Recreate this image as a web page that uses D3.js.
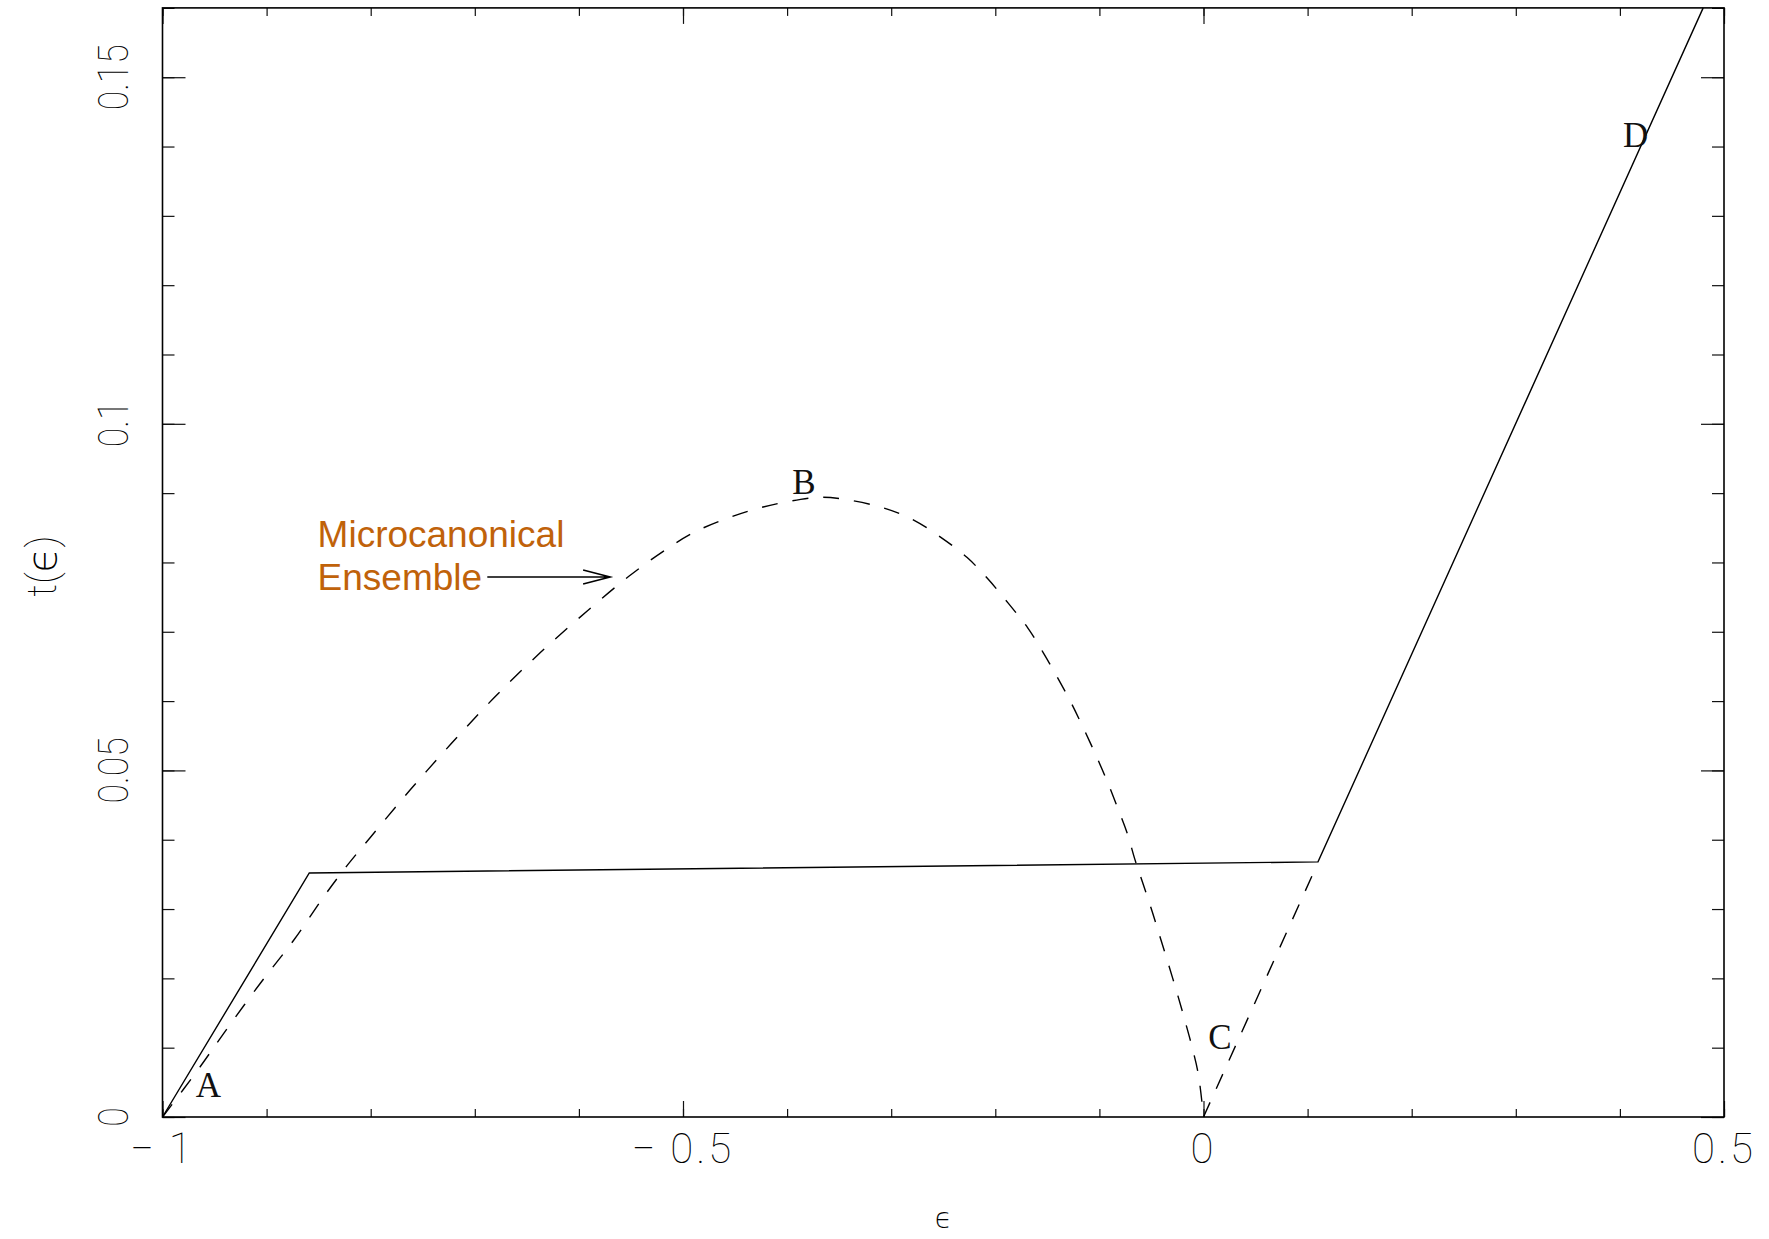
<!DOCTYPE html>
<html>
<head>
<meta charset="utf-8">
<script src="https://cdn.jsdelivr.net/npm/d3@7"></script>
<style>
  body { margin: 0; background: #fff; }
  svg { display: block; }
</style>
</head>
<body>
<div id="chart"></div>
<script>
// canonical (solid) curve
var canonEps = [-1, -0.859, 0.110, 0.480];
var canonT = [0, 0.0352, 0.0368, 0.160];

// microcanonical (dashed) curve, smooth part from A to C
var microEps = [-1, -0.966, -0.941, -0.906, -0.874, -0.845, -0.822, -0.800, -0.762, -0.723,
  -0.682, -0.637, -0.592, -0.552, -0.519, -0.490, -0.457, -0.423, -0.387, -0.368,
  -0.349, -0.313, -0.282, -0.253, -0.227, -0.207, -0.188, -0.169, -0.154, -0.141,
  -0.128, -0.116, -0.104, -0.093, -0.083, -0.073, -0.066, -0.058, -0.049, -0.042,
  -0.034, -0.025, -0.018, -0.011, -0.005, 0];
var microT = [0, 0.0068, 0.0121, 0.0193, 0.0255, 0.0318, 0.0364, 0.0404, 0.0472, 0.0538,
  0.0604, 0.0670, 0.0730, 0.0780, 0.0816, 0.0843, 0.0864, 0.0880, 0.0891, 0.0894,
  0.0892, 0.0881, 0.0864, 0.0837, 0.0807, 0.0776, 0.0742, 0.0706, 0.0670, 0.0636,
  0.0600, 0.0563, 0.0524, 0.0486, 0.0448, 0.0408, 0.0372, 0.0336, 0.0295, 0.0261,
  0.0222, 0.0177, 0.0140, 0.0101, 0.0062, 0];
// straight dashed part from C up to the solid line
var microTailEps = [0, 0.110];
var microTailT = [0, 0.0367];

var xMajor = [-1, -0.5, 0, 0.5];
var xLabels = ['\u2212\u20091', '\u2212\u20090.5', '0', '0.5'];
var yMajor = [0, 0.05, 0.1, 0.15];
var yLabels = ['0', '0.05', '0.1', '0.15'];

var pointNames = ['A', 'B', 'C', 'D'];
var pointEps = [-0.968, -0.395, 0.0045, 0.403];
var pointT = [0.0029, 0.0899, 0.0098, 0.1399];

var noteLines = ['Microcanonical', 'Ensemble'];
var noteEps = -0.851;
var noteT = [0.0822, 0.0760];
var arrowEps = [-0.688, -0.570];
var arrowT = 0.0779;

var svgW = 1769, svgH = 1239;
var plotL = 162.5, plotR = 1724, plotT = 7.9, plotB = 1117;

var svg = d3.select('#chart')
  .append('svg')
  .attr('width', svgW)
  .attr('height', svgH);

var x = d3.scaleLinear().domain([-1, 0.5]).range([plotL, plotR]);
var y = d3.scaleLinear().domain([0, 0.16]).range([plotB, plotT]);

var xMinor = d3.range(-10, 6).map(function (d) { return d / 10; });
var yMinor = d3.range(0, 17).map(function (d) { return d / 100; });

function drawAxis(axis, tx, ty) {
  var g = svg.append('g')
    .attr('transform', 'translate(' + tx + ',' + ty + ')')
    .call(axis);
  g.select('.domain').remove();
  g.selectAll('text').remove();
  g.selectAll('line').attr('stroke', '#111').attr('stroke-width', 1.2);
}

// minor and major ticks on all four sides, pointing inward
drawAxis(d3.axisBottom(x).tickValues(xMinor).tickSize(-8).tickFormat(''), 0, plotB);
drawAxis(d3.axisBottom(x).tickValues(xMajor).tickSize(-16).tickFormat(''), 0, plotB);
drawAxis(d3.axisTop(x).tickValues(xMinor).tickSize(-8).tickFormat(''), 0, plotT);
drawAxis(d3.axisTop(x).tickValues(xMajor).tickSize(-16).tickFormat(''), 0, plotT);
drawAxis(d3.axisLeft(y).tickValues(yMinor).tickSize(-12).tickFormat(''), plotL, 0);
drawAxis(d3.axisLeft(y).tickValues(yMajor).tickSize(-23).tickFormat(''), plotL, 0);
drawAxis(d3.axisRight(y).tickValues(yMinor).tickSize(-12).tickFormat(''), plotR, 0);
drawAxis(d3.axisRight(y).tickValues(yMajor).tickSize(-23).tickFormat(''), plotR, 0);

svg.append('rect')
  .attr('x', plotL).attr('y', plotT)
  .attr('width', plotR - plotL).attr('height', plotB - plotT)
  .attr('fill', 'none')
  .attr('stroke', '#000')
  .attr('stroke-width', 1.6);

var labelFont = 'Roboto, "DejaVu Sans", sans-serif';

// x tick labels
svg.selectAll('.xlab')
  .data(xMajor)
  .enter()
  .append('text')
  .attr('class', 'xlab')
  .attr('x', function (d) { return x(d); })
  .attr('y', 1163)
  .attr('text-anchor', 'middle')
  .attr('font-family', labelFont)
  .attr('font-weight', 100)
  .attr('font-size', 42)
  .attr('letter-spacing', 3)
  .attr('fill', '#000')
  .text(function (d, i) { return xLabels[i]; });

// y tick labels, rotated
svg.selectAll('.ylab')
  .data(yMajor)
  .enter()
  .append('text')
  .attr('class', 'ylab')
  .attr('transform', function (d) {
    return 'translate(128,' + y(d) + ') rotate(-90) scale(0.85,1)';
  })
  .attr('text-anchor', 'middle')
  .attr('font-family', labelFont)
  .attr('font-weight', 100)
  .attr('font-size', 42)
  .attr('fill', '#000')
  .text(function (d, i) { return yLabels[i]; });

// axis titles
svg.append('text')
  .attr('x', (plotL + plotR) / 2)
  .attr('y', 1228)
  .attr('text-anchor', 'middle')
  .attr('font-family', '"DejaVu Sans", sans-serif')
  .attr('font-weight', 200)
  .attr('font-size', 28)
  .text('\u03f5');

svg.append('text')
  .attr('transform', 'translate(56,566) rotate(-90)')
  .attr('text-anchor', 'middle')
  .attr('font-family', labelFont)
  .attr('font-weight', 100)
  .attr('font-size', 40)
  .text('t(\u03f5)');

// curves
function pairs(xs, ys) {
  return xs.map(function (e, i) { return [e, ys[i]]; });
}

var line = d3.line()
  .x(function (d) { return x(d[0]); })
  .y(function (d) { return y(d[1]); });

var smooth = d3.line()
  .curve(d3.curveCatmullRom.alpha(0.5))
  .x(function (d) { return x(d[0]); })
  .y(function (d) { return y(d[1]); });

svg.append('path')
  .datum(pairs(microEps, microT))
  .attr('d', smooth)
  .attr('fill', 'none')
  .attr('stroke', '#000')
  .attr('stroke-width', 1.4)
  .attr('stroke-dasharray', '16,15');

svg.append('path')
  .datum(pairs(microTailEps, microTailT))
  .attr('d', line)
  .attr('fill', 'none')
  .attr('stroke', '#000')
  .attr('stroke-width', 1.4)
  .attr('stroke-dasharray', '16,15');

svg.append('path')
  .datum(pairs(canonEps, canonT))
  .attr('d', line)
  .attr('fill', 'none')
  .attr('stroke', '#000')
  .attr('stroke-width', 1.4);

// point letters
svg.selectAll('.pt')
  .data(pointNames)
  .enter()
  .append('text')
  .attr('class', 'pt')
  .attr('x', function (d, i) { return x(pointEps[i]); })
  .attr('y', function (d, i) { return y(pointT[i]); })
  .attr('font-family', '"Liberation Serif", "DejaVu Serif", serif')
  .attr('font-size', 35)
  .attr('fill', '#111')
  .text(function (d) { return d; });

// annotation
svg.selectAll('.note')
  .data(noteLines)
  .enter()
  .append('text')
  .attr('class', 'note')
  .attr('x', x(noteEps))
  .attr('y', function (d, i) { return y(noteT[i]); })
  .attr('font-family', '"Liberation Sans", Arial, sans-serif')
  .attr('font-size', 37)
  .attr('fill', '#c0620a')
  .text(function (d) { return d; });

var ax0 = x(arrowEps[0]), ax1 = x(arrowEps[1]), ay = y(arrowT);
svg.append('path')
  .attr('d', 'M' + ax0 + ',' + ay + 'L' + ax1 + ',' + ay +
    'M' + (ax1 - 27) + ',' + (ay - 7) + 'L' + ax1 + ',' + ay + 'L' + (ax1 - 27) + ',' + (ay + 7))
  .attr('fill', 'none')
  .attr('stroke', '#000')
  .attr('stroke-width', 1.6);
</script>
</body>
</html>
